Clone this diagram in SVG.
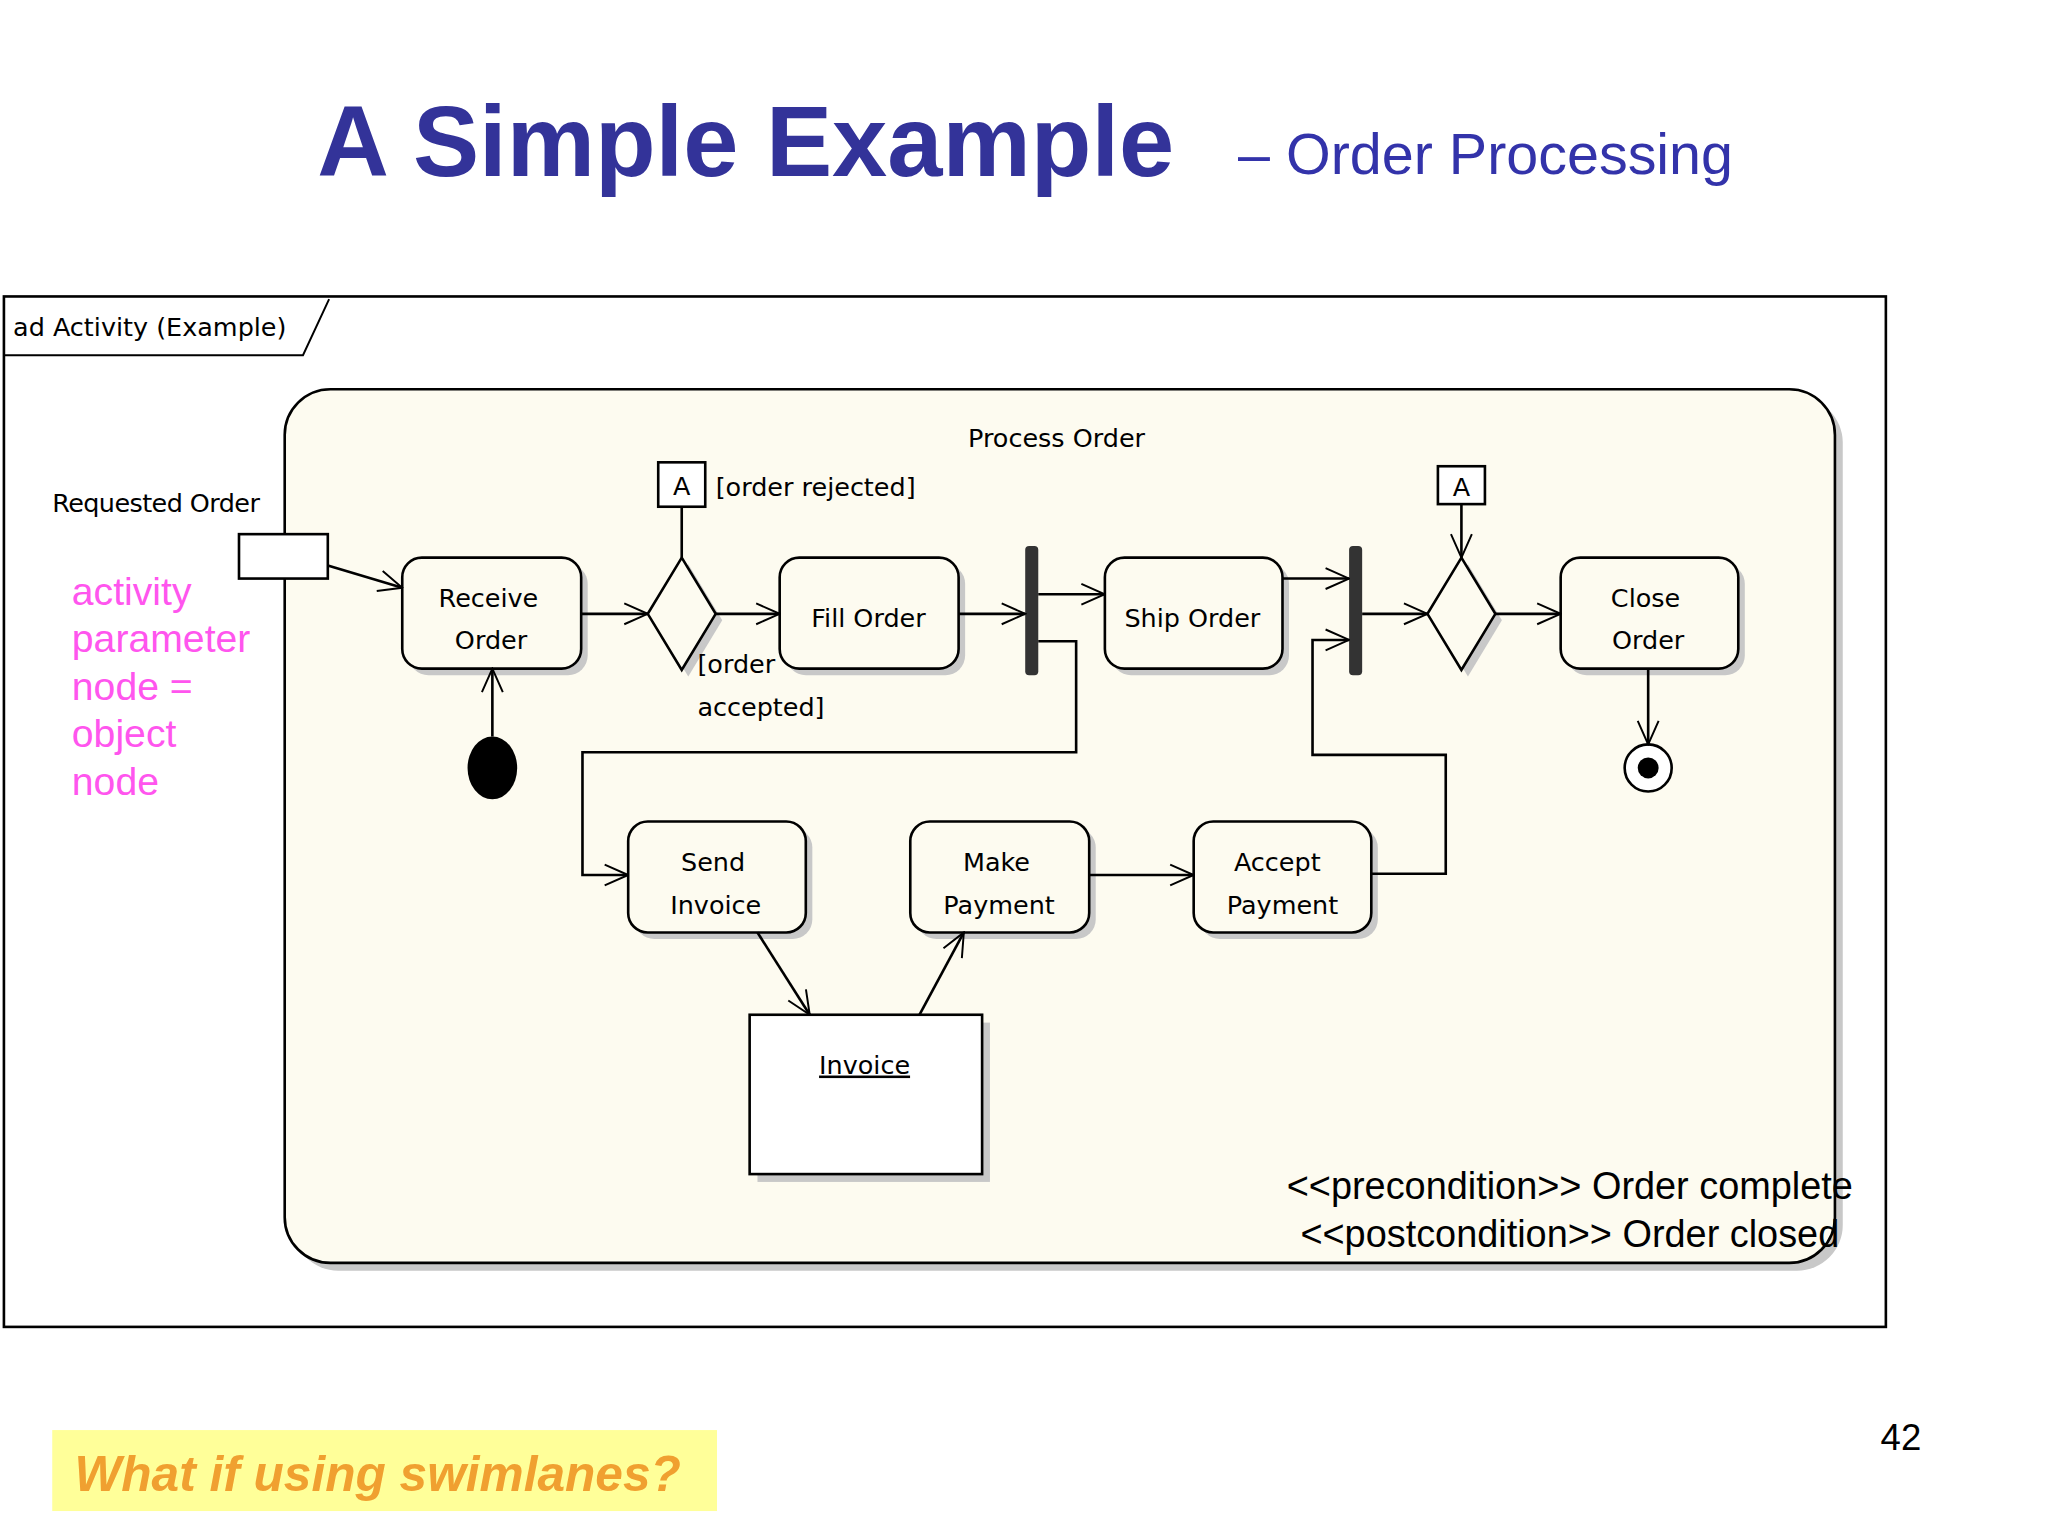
<svg xmlns="http://www.w3.org/2000/svg" width="2048" height="1536" viewBox="0 0 2048 1536">
<style>
.t{font-family:"DejaVu Sans",sans-serif;font-size:19.5px;fill:#000}
.n{fill:#fdfbf0;stroke:#000;stroke-width:2}
.sh{fill:#c8c8c8}
.c{fill:none;stroke:#000;stroke-width:2;marker-end:url(#a)}
.pk{font-family:"Liberation Sans",Arial,sans-serif;font-size:30px;fill:#ff55ee}
</style>
<defs>
<marker id="a" viewBox="0 0 20 20" refX="19" refY="10" markerWidth="20" markerHeight="20" markerUnits="userSpaceOnUse" orient="auto">
<path d="M1,2 L19,10 L1,18" fill="none" stroke="#000" stroke-width="1.5"/>
</marker>
</defs>
<rect width="2048" height="1536" fill="#fff"/>
<g transform="scale(1.306)">
<g id="title">
<text x="243" y="135" font-family="Liberation Sans,Arial,sans-serif" font-size="76" font-weight="bold" fill="#333399">A Simple Example</text>
<text x="948" y="133" font-family="Liberation Sans,Arial,sans-serif" font-size="44" fill="#3333aa">– Order Processing</text>
</g>
<g id="frame">
<rect x="3" y="227" width="1441" height="789" fill="#fff" stroke="#000" stroke-width="2"/>
<path d="M3,272 H232 L252,229" fill="none" stroke="#000" stroke-width="1.5"/>
<text x="10" y="257" class="t">ad Activity (Example)</text>
</g>
<g id="activity">
<rect x="224" y="304" width="1187" height="669" rx="35" class="sh"/>
<rect x="218" y="298" width="1187" height="669" rx="35" class="n"/>
<text x="809" y="342" class="t" text-anchor="middle">Process Order</text>
</g>
<g id="param">
<text x="40" y="392" class="t" textLength="159">Requested Order</text>
<rect x="183" y="409" width="68" height="34" fill="#fff" stroke="#000" stroke-width="2"/>
</g>
<g id="note">
<text class="pk" x="55" y="463">activity</text>
<text class="pk" x="55" y="499">parameter</text>
<text class="pk" x="55" y="536">node =</text>
<text class="pk" x="55" y="572">object</text>
<text class="pk" x="55" y="609">node</text>
</g>
<g id="receive"><rect x="313" y="432" width="137" height="85" rx="15" class="sh"/><rect x="308" y="427" width="137" height="85" rx="15" class="n"/><text class="t" x="374" y="465" text-anchor="middle">Receive</text><text class="t" x="376" y="497" text-anchor="middle">Order</text></g>
<g id="dec1"><path d="M527,432 L553,475 L527,518 L501,475Z" class="sh"/><path d="M522,427 L548,470 L522,513 L496,470Z" class="n"/></g>
<g id="a1"><rect x="504" y="354" width="36" height="34" fill="#fff" stroke="#000" stroke-width="2"/><text class="t" x="522" y="379" text-anchor="middle">A</text><line x1="522" y1="388" x2="522" y2="427" stroke="#000" stroke-width="2"/></g>
<g id="labels"><text class="t" x="548" y="380">[order rejected]</text><text class="t" x="534" y="515">[order</text><text class="t" x="534" y="548">accepted]</text></g>
<g id="fill"><rect x="602" y="432" width="137" height="85" rx="15" class="sh"/><rect x="597" y="427" width="137" height="85" rx="15" class="n"/><text class="t" x="665" y="480" text-anchor="middle">Fill Order</text></g>
<g id="fork"><rect x="785" y="418" width="10" height="99" rx="3" fill="#333"/></g>
<g id="ship"><rect x="851" y="432" width="136" height="85" rx="15" class="sh"/><rect x="846" y="427" width="136" height="85" rx="15" class="n"/><text class="t" x="913" y="480" text-anchor="middle">Ship Order</text></g>
<g id="join"><rect x="1033" y="418" width="10" height="99" rx="3" fill="#333"/></g>
<g id="dec2"><path d="M1124,432 L1150,475 L1124,518 L1098,475Z" class="sh"/><path d="M1119,427 L1145,470 L1119,513 L1093,470Z" class="n"/></g>
<g id="a2"><rect x="1101" y="357" width="36" height="29" fill="#fff" stroke="#000" stroke-width="2"/><text class="t" x="1119" y="380" text-anchor="middle">A</text></g>
<g id="close"><rect x="1200" y="432" width="136" height="85" rx="15" class="sh"/><rect x="1195" y="427" width="136" height="85" rx="15" class="n"/><text class="t" x="1260" y="465" text-anchor="middle">Close</text><text class="t" x="1262" y="497" text-anchor="middle">Order</text></g>
<g id="final"><circle cx="1262" cy="588" r="18" fill="#fff" stroke="#000" stroke-width="2"/><circle cx="1262" cy="588" r="8" fill="#000"/></g>
<g id="initial"><ellipse cx="377" cy="588" rx="19" ry="24" fill="#000"/></g>
<g id="send"><rect x="486" y="634" width="136" height="85" rx="15" class="sh"/><rect x="481" y="629" width="136" height="85" rx="15" class="n"/><text class="t" x="546" y="667" text-anchor="middle">Send</text><text class="t" x="548" y="700" text-anchor="middle">Invoice</text></g>
<g id="make"><rect x="702" y="634" width="137" height="85" rx="15" class="sh"/><rect x="697" y="629" width="137" height="85" rx="15" class="n"/><text class="t" x="763" y="667" text-anchor="middle">Make</text><text class="t" x="765" y="700" text-anchor="middle">Payment</text></g>
<g id="accept"><rect x="919" y="634" width="136" height="85" rx="15" class="sh"/><rect x="914" y="629" width="136" height="85" rx="15" class="n"/><text class="t" x="978" y="667" text-anchor="middle">Accept</text><text class="t" x="982" y="700" text-anchor="middle">Payment</text></g>
<g id="invoice"><rect x="580" y="783" width="178" height="122" class="sh"/><rect x="574" y="777" width="178" height="122" fill="#fff" stroke="#000" stroke-width="2"/><text class="t" x="662" y="822" text-anchor="middle" text-decoration="underline">Invoice</text></g>
<g id="connectors">
<path class="c" d="M251,433 L308,450"/>
<path class="c" d="M445,470 H496"/>
<path class="c" d="M548,470 H597"/>
<path class="c" d="M734,470 H785"/>
<path class="c" d="M795,455 H846"/>
<path class="c" d="M982,443 H1033"/>
<path class="c" d="M1043,470 H1093"/>
<path class="c" d="M1145,470 H1195"/>
<path class="c" d="M1262,512 V570"/>
<path class="c" d="M1119,386 V427"/>
<path class="c" d="M377,564 V512"/>
<path class="c" d="M795,491 H824 V576 H446 V670 H481"/>
<path class="c" d="M580,714 L620,777"/>
<path class="c" d="M704,777 L738,714"/>
<path class="c" d="M834,670 H914"/>
<path class="c" d="M1050,669 H1107 V578 H1005 V490 H1033"/>
</g>
<g id="conditions">
<text x="1202" y="918" font-family="Liberation Sans,Arial,sans-serif" font-size="29" text-anchor="middle">&lt;&lt;precondition&gt;&gt; Order complete</text>
<text x="1202" y="955" font-family="Liberation Sans,Arial,sans-serif" font-size="29" text-anchor="middle">&lt;&lt;postcondition&gt;&gt; Order closed</text>
</g>
<g id="footer">
<text x="1440" y="1110" font-family="Liberation Sans,Arial,sans-serif" font-size="28">42</text>
<rect x="40" y="1095" width="509" height="62" fill="#ffff99"/>
<text x="57" y="1142" font-family="Liberation Sans,Arial,sans-serif" font-size="38" font-weight="bold" font-style="italic" fill="#f0a030">What if using swimlanes?</text>
</g>
</g>
</svg>
